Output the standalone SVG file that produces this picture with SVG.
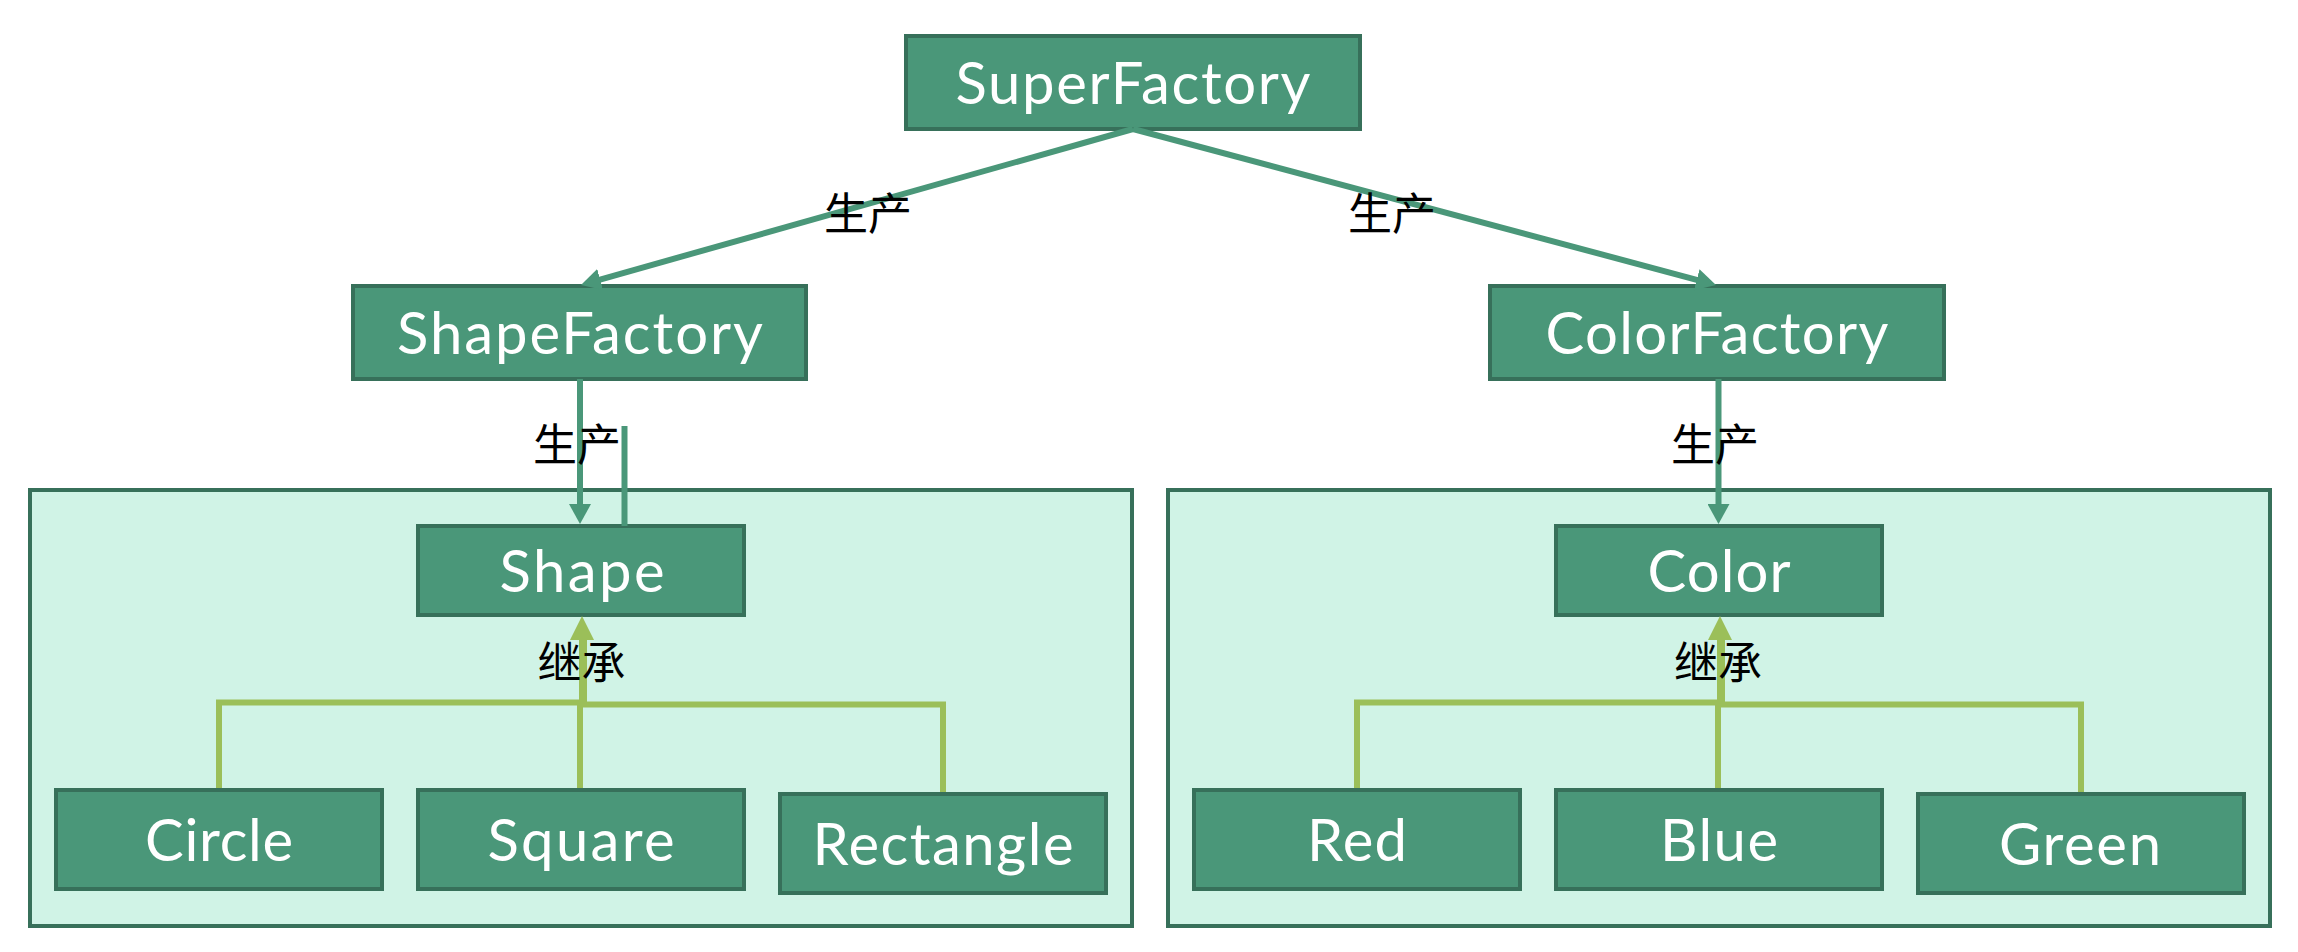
<svg xmlns="http://www.w3.org/2000/svg" width="2298" height="952" viewBox="0 0 2298 952">
  <style>
    .group-box { fill: #d0f3e6; stroke: #37705a; stroke-width: 4; }
    .node rect { fill: #4a9779; stroke: #37705a; stroke-width: 4; }
    .node text { fill: #ffffff; font-family: Lato, "Open Sans", "Liberation Sans", sans-serif; font-size: 58px; text-anchor: middle; }
    .produce { fill: none; stroke: #4a9779; stroke-width: 6; }
    .inherit { fill: none; stroke: #9bbf59; stroke-width: 6; }
    .label { fill: #000000; font-family: "Noto Sans CJK SC", "Noto Sans", sans-serif; font-size: 44px; text-anchor: middle; }
  </style>
  <defs>
    <marker id="arrow-produce" markerUnits="userSpaceOnUse" viewBox="0 0 20 22" markerWidth="20" markerHeight="22" refX="2" refY="11" orient="auto">
      <path d="M0,0 L20,11 L0,22 Z" fill="#4a9779"/>
    </marker>
    <marker id="arrow-inherit" markerUnits="userSpaceOnUse" viewBox="0 0 24 24" markerWidth="24" markerHeight="24" refX="2" refY="12" orient="auto">
      <path d="M0,0 L24,12 L0,24 Z" fill="#9bbf59"/>
    </marker>
  </defs>

  <rect class="group-box" id="shape-family" x="30" y="490" width="1102" height="436"/>
  <rect class="group-box" id="color-family" x="1168" y="490" width="1102" height="436"/>

  <g id="node-superfactory" class="node">
    <rect x="906" y="36" width="454" height="93"/>
    <text x="1133" y="103.5" textLength="355">SuperFactory</text>
  </g>
  <g id="node-shapefactory" class="node">
    <rect x="353" y="286" width="453" height="93"/>
    <text x="580" y="354" textLength="366">ShapeFactory</text>
  </g>
  <g id="node-colorfactory" class="node">
    <rect x="1490" y="286" width="454" height="93"/>
    <text x="1717" y="354" textLength="343">ColorFactory</text>
  </g>
  <g id="node-shape" class="node">
    <rect x="418" y="526" width="326" height="89"/>
    <text x="582" y="591.5" textLength="165">Shape</text>
  </g>
  <g id="node-color" class="node">
    <rect x="1556" y="526" width="326" height="89"/>
    <text x="1719" y="591.5" textLength="143">Color</text>
  </g>
  <g id="node-circle" class="node">
    <rect x="56" y="790" width="326" height="99"/>
    <text x="219" y="860.5" textLength="148">Circle</text>
  </g>
  <g id="node-square" class="node">
    <rect x="418" y="790" width="326" height="99"/>
    <text x="581" y="860.5" textLength="187">Square</text>
  </g>
  <g id="node-rectangle" class="node">
    <rect x="780" y="794" width="326" height="99"/>
    <text x="943" y="864.5" textLength="261">Rectangle</text>
  </g>
  <g id="node-red" class="node">
    <rect x="1194" y="790" width="326" height="99"/>
    <text x="1357" y="860.5" textLength="100">Red</text>
  </g>
  <g id="node-blue" class="node">
    <rect x="1556" y="790" width="326" height="99"/>
    <text x="1719" y="860.5" textLength="118">Blue</text>
  </g>
  <g id="node-green" class="node">
    <rect x="1918" y="794" width="326" height="99"/>
    <text x="2080" y="864.5" textLength="162">Green</text>
  </g>

  <g id="connectors">
    <!-- factory production -->
    <line class="produce" x1="1133" y1="129" x2="598.3" y2="280.1" marker-end="url(#arrow-produce)"/>
    <line class="produce" x1="1133" y1="129" x2="1698.6" y2="280.3" marker-end="url(#arrow-produce)"/>
    <line class="produce" x1="580" y1="379" x2="580" y2="506" marker-end="url(#arrow-produce)"/>
    <line class="produce" x1="624.5" y1="426" x2="624.5" y2="526"/>
    <line class="produce" x1="1718.5" y1="379" x2="1718.5" y2="506" marker-end="url(#arrow-produce)"/>
    <!-- inheritance, shape family -->
    <path class="inherit" d="M219,788 V702.5 H582 V638" marker-end="url(#arrow-inherit)"/>
    <path class="inherit" d="M580,788 V702"/>
    <path class="inherit" d="M943,792 V704.5 H584 V640"/>
    <!-- inheritance, color family -->
    <path class="inherit" d="M1357,788 V702.5 H1720 V638" marker-end="url(#arrow-inherit)"/>
    <path class="inherit" d="M1718,788 V702"/>
    <path class="inherit" d="M2081,792 V704.5 H1722 V640"/>
  </g>

  <g id="labels">
    <text class="label" x="868" y="230">生产</text>
    <text class="label" x="1392" y="230">生产</text>
    <text class="label" x="577" y="461">生产</text>
    <text class="label" x="1715" y="461">生产</text>
    <text class="label" x="581.5" y="679">继承</text>
    <text class="label" x="1718" y="679">继承</text>
  </g>
</svg>
